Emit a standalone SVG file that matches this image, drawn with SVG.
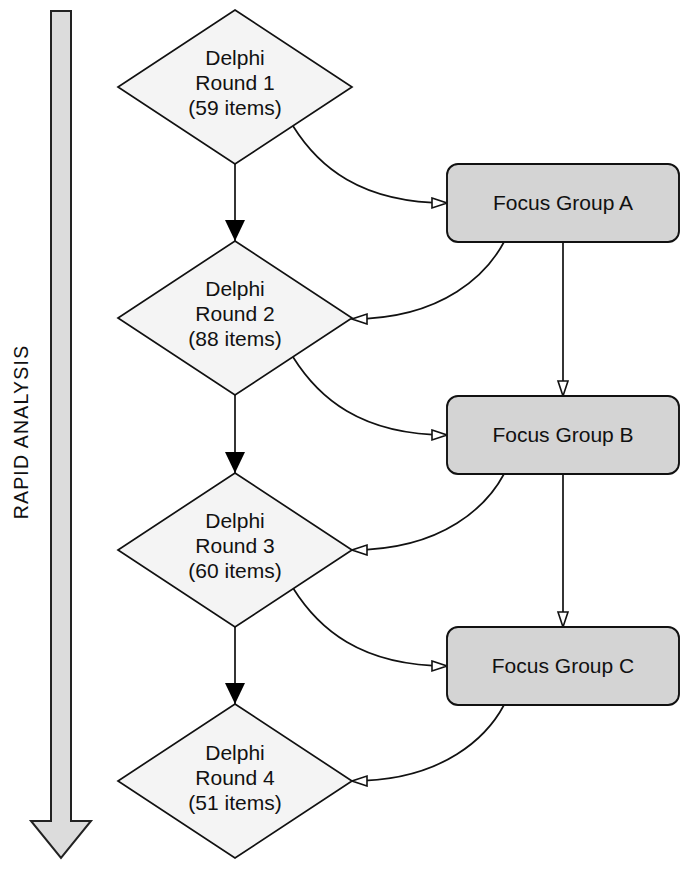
<svg xmlns="http://www.w3.org/2000/svg" width="685" height="870" viewBox="0 0 685 870">
<defs>
<style>
.dia{fill:#f4f4f4;stroke:#111;stroke-width:1.7}
.box{fill:#d4d4d4;stroke:#111;stroke-width:1.9}
.t{font-family:"Liberation Sans",Arial,Helvetica,sans-serif;font-size:21px;fill:#111;text-anchor:middle}
.c{fill:none;stroke:#111;stroke-width:1.7}
</style>
<marker id="solid" markerUnits="userSpaceOnUse" markerWidth="22" markerHeight="22" refX="21" refY="10" orient="auto">
<path d="M0,0 L21,10 L0,20 z" fill="#000"/>
</marker>
<marker id="hollow" markerUnits="userSpaceOnUse" markerWidth="18" markerHeight="14" refX="16" refY="6" orient="auto">
<path d="M1,1 L16,6 L1,11 z" fill="#fff" stroke="#111" stroke-width="1.6"/>
</marker>
</defs>
<rect width="685" height="870" fill="#fff"/>
<g id="rapid-analysis">
<path d="M51,11 L71,11 L71,821 L91,821 L61,858 L31,821 L51,821 Z" fill="#dcdcdc" stroke="#222" stroke-width="2" stroke-linejoin="miter"/>
<text x="28" y="432" transform="rotate(-90 28 432)" style="font-family:'Liberation Sans',Arial,sans-serif;font-size:19.5px;letter-spacing:1.2px;fill:#111;text-anchor:middle">RAPID ANALYSIS</text>
</g>
<g id="connectors">
<path class="c" d="M235,164 L235,241" marker-end="url(#solid)"/>
<path class="c" d="M235,395 L235,473" marker-end="url(#solid)"/>
<path class="c" d="M235,627 L235,704" marker-end="url(#solid)"/>
<path class="c" d="M563,242 L563,396" marker-end="url(#hollow)"/>
<path class="c" d="M563,474 L563,627" marker-end="url(#hollow)"/>
<path class="c" d="M293,126 C318,166 360,203 447,203" marker-end="url(#hollow)"/>
<path class="c" d="M293,357 C318,397 360,435 447,435" marker-end="url(#hollow)"/>
<path class="c" d="M293,588 C318,628 360,666 447,666" marker-end="url(#hollow)"/>
<path class="c" d="M504,242 C488,272 445,319 352,319" marker-end="url(#hollow)"/>
<path class="c" d="M504,474 C488,504 445,550 352,550" marker-end="url(#hollow)"/>
<path class="c" d="M504,705 C488,735 445,781 352,781" marker-end="url(#hollow)"/>
</g>
<g id="delphi-1">
<polygon class="dia" points="235,10 352,87 235,164 118,87"/>
<text class="t" x="235" y="65">Delphi</text>
<text class="t" x="235" y="90">Round 1</text>
<text class="t" x="235" y="115">(59 items)</text>
</g>
<g id="delphi-2">
<polygon class="dia" points="235,241 352,318 235,395 118,318"/>
<text class="t" x="235" y="296">Delphi</text>
<text class="t" x="235" y="321">Round 2</text>
<text class="t" x="235" y="346">(88 items)</text>
</g>
<g id="delphi-3">
<polygon class="dia" points="235,473 352,550 235,627 118,550"/>
<text class="t" x="235" y="528">Delphi</text>
<text class="t" x="235" y="553">Round 3</text>
<text class="t" x="235" y="578">(60 items)</text>
</g>
<g id="delphi-4">
<polygon class="dia" points="235,704 352,781 235,858 118,781"/>
<text class="t" x="235" y="760">Delphi</text>
<text class="t" x="235" y="785">Round 4</text>
<text class="t" x="235" y="810">(51 items)</text>
</g>
<g id="focus-a">
<rect class="box" x="447" y="164" width="232" height="78" rx="11"/>
<text class="t" x="563" y="210">Focus Group A</text>
</g>
<g id="focus-b">
<rect class="box" x="447" y="396" width="232" height="78" rx="11"/>
<text class="t" x="563" y="442">Focus Group B</text>
</g>
<g id="focus-c">
<rect class="box" x="447" y="627" width="232" height="78" rx="11"/>
<text class="t" x="563" y="673">Focus Group C</text>
</g>
</svg>
